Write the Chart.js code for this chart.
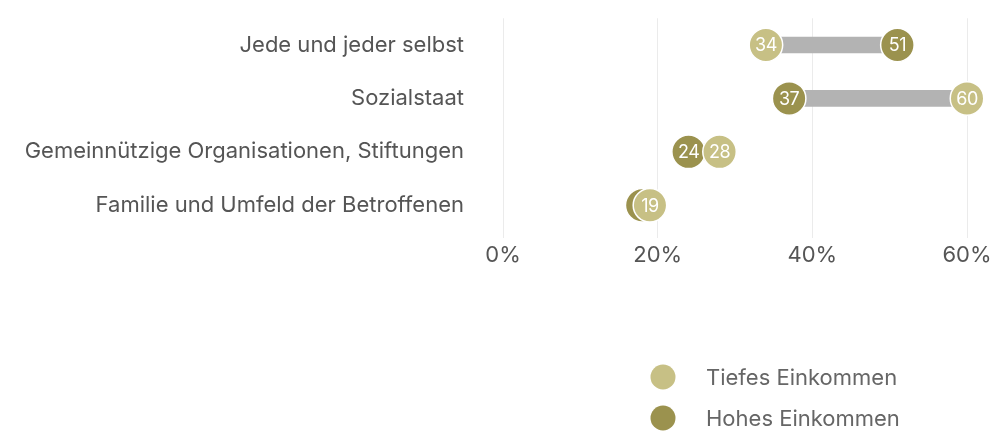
<!DOCTYPE html>
<html>
<head>
<meta charset="utf-8">
<script src="https://cdn.jsdelivr.net/npm/chart.js@4.4.1/dist/chart.umd.min.js"></script>
<style>
  html, body { margin: 0; padding: 0; background: #ffffff; }
  #wrap { width: 992px; height: 432px; position: relative; }
</style>
</head>
<body>
<div id="wrap"><canvas id="c" width="992" height="432"></canvas></div>
<script>
const categories = [
  'Jede und jeder selbst',
  'Sozialstaat',
  'Gemeinnützige Organisationen, Stiftungen',
  'Familie und Umfeld der Betroffenen'
];
const tiefesEinkommen = [34, 60, 28, 19];
const hohesEinkommen = [51, 37, 24, 18];
const seriesNames = ['Tiefes Einkommen', 'Hohes Einkommen'];
const xTickValues = [0, 20, 40, 60];

const LIGHT = '#c7c085';
const DARK = '#9b924e';
const FONT = 'Inter, "Liberation Sans", Arial, sans-serif';

const ranges = categories.map((c, i) => [
  Math.min(tiefesEinkommen[i], hohesEinkommen[i]),
  Math.max(tiefesEinkommen[i], hohesEinkommen[i])
]);

const valueLabels = {
  id: 'valueLabels',
  afterDatasetDraw(chart, args) {
    const ds = chart.data.datasets[args.index];
    if (!ds.showValues) return;
    const ctx = chart.ctx;
    ctx.save();
    ctx.fillStyle = '#ffffff';
    ctx.font = '18px ' + FONT;
    ctx.textAlign = 'center';
    ctx.textBaseline = 'middle';
    if ('letterSpacing' in ctx) ctx.letterSpacing = '-0.5px';
    args.meta.data.forEach((pt, i) => {
      ctx.fillText(String(ds.data[i]), pt.x, pt.y + 1);
    });
    ctx.restore();
  }
};

const customLegend = {
  id: 'customLegend',
  afterDraw(chart) {
    const ctx = chart.ctx;
    const items = chart.data.datasets.filter(d => d.inLegend);
    items.sort((a, b) => a.legendRank - b.legendRank);
    ctx.save();
    ctx.font = '22px ' + FONT;
    ctx.textBaseline = 'middle';
    ctx.textAlign = 'left';
    items.forEach((d, k) => {
      const y = 377 + k * 41;
      ctx.beginPath();
      ctx.arc(663, y, 12.5, 0, Math.PI * 2);
      ctx.fillStyle = d.backgroundColor;
      ctx.fill();
      ctx.fillStyle = '#666666';
      ctx.fillText(d.label, 706, y + 1);
    });
    ctx.restore();
  }
};

new Chart(document.getElementById('c'), {
  type: 'bar',
  data: {
    labels: categories,
    datasets: [
      {
        type: 'line',
        label: seriesNames[0],
        data: tiefesEinkommen,
        showLine: false,
        clip: false,
        backgroundColor: LIGHT,
        borderColor: '#ffffff',
        pointBackgroundColor: LIGHT,
        pointBorderColor: '#ffffff',
        pointBorderWidth: 1.5,
        pointRadius: 16.75,
        pointHoverRadius: 16.75,
        order: 1,
        showValues: true,
        inLegend: true,
        legendRank: 0
      },
      {
        type: 'line',
        label: seriesNames[1],
        data: hohesEinkommen,
        showLine: false,
        clip: false,
        backgroundColor: DARK,
        borderColor: '#ffffff',
        pointBackgroundColor: DARK,
        pointBorderColor: '#ffffff',
        pointBorderWidth: 1.5,
        pointRadius: 16.75,
        pointHoverRadius: 16.75,
        order: 2,
        showValues: true,
        inLegend: true,
        legendRank: 1
      },
      {
        type: 'bar',
        label: 'Spanne',
        data: ranges,
        backgroundColor: '#b3b3b3',
        borderWidth: 0,
        barThickness: 16,
        order: 3
      }
    ]
  },
  options: {
    indexAxis: 'y',
    responsive: false,
    animation: false,
    layout: { padding: { top: 16, right: 25, bottom: 0, left: 0 } },
    plugins: {
      legend: { display: false },
      tooltip: { enabled: false }
    },
    scales: {
      x: {
        type: 'linear',
        min: 0,
        max: 60,
        afterBuildTicks(scale) {
          scale.ticks = xTickValues.map(v => ({ value: v }));
        },
        afterFit(scale) { scale.height = 200; },
        border: { display: false },
        grid: { color: '#ebebeb', lineWidth: 1, tickLength: 6, drawTicks: true },
        ticks: {
          padding: 0,
          color: '#555555',
          font: { family: FONT, size: 22, lineHeight: 1.55 },
          callback: v => v + '%'
        }
      },
      y: {
        type: 'category',
        afterFit(scale) { scale.width = 503; },
        border: { display: false },
        grid: {
          display: true,
          drawOnChartArea: false,
          drawTicks: true,
          tickLength: 39,
          tickColor: 'rgba(0,0,0,0)',
          color: 'rgba(0,0,0,0)'
        },
        ticks: {
          padding: 0,
          color: '#555555',
          font: { family: FONT, size: 22 }
        }
      }
    }
  },
  plugins: [valueLabels, customLegend]
});
</script>
</body>
</html>
